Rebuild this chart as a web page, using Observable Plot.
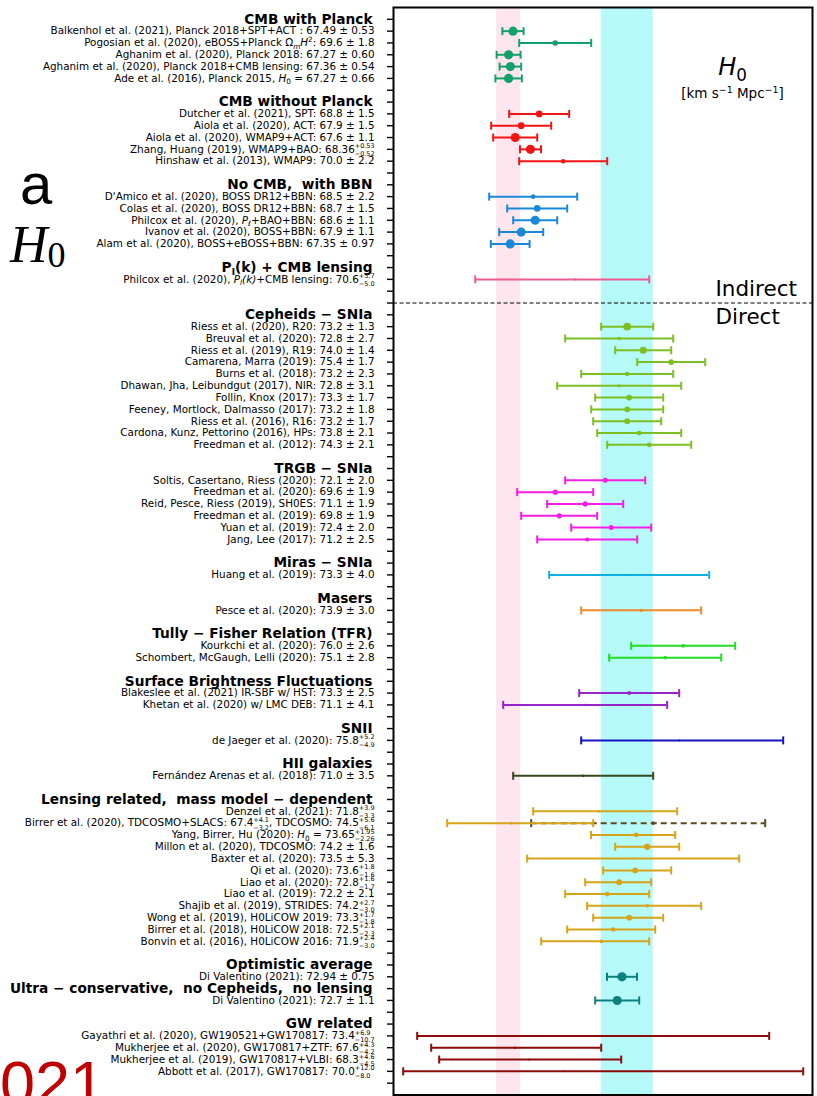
<!DOCTYPE html>
<html>
<head>
<meta charset="utf-8">
<script src="https://cdn.jsdelivr.net/npm/d3@7"></script>
<script src="https://cdn.jsdelivr.net/npm/@observablehq/plot@0.6"></script>
<style>
html, body { margin: 0; padding: 0; background: #fff; }
#wrap { position: relative; width: 817px; height: 1096px; overflow: hidden; }
#slide, #chart { position: absolute; left: 0; top: 0; }
svg text { white-space: pre; }
</style>
</head>
<body>
<div id="wrap">
  <svg id="slide" width="817" height="1096">
    <text x="20" y="204" font-family="Liberation Sans" font-size="58" fill="#000">a</text>
    <text x="10" y="262" font-family="Liberation Serif" font-size="52" font-style="italic" fill="#000">H<tspan font-style="normal" font-size="36" dy="5">0</tspan></text>
    <text x="-35" y="1105" font-family="Liberation Sans" font-size="63" fill="#c00000">2021</text>
  </svg>
  <div id="chart"></div>
</div>
<script>
// ---------- data: [label, H0, minus error, plus error] ----------
const cmbWithPlanck = [
  ["Balkenhol et al. (2021), Planck 2018+SPT+ACT : 67.49 ± 0.53", 67.49, 0.53, 0.53],
  ["Pogosian et al. (2020), eBOSS+Planck Ω$_{m}H$^{2}: 69.6 ± 1.8", 69.6, 1.8, 1.8],
  ["Aghanim et al. (2020), Planck 2018: 67.27 ± 0.60", 67.27, 0.60, 0.60],
  ["Aghanim et al. (2020), Planck 2018+CMB lensing: 67.36 ± 0.54", 67.36, 0.54, 0.54],
  ["Ade et al. (2016), Planck 2015, $H$_{0} = 67.27 ± 0.66", 67.27, 0.66, 0.66]
];
const cmbWithoutPlanck = [
  ["Dutcher et al. (2021), SPT: 68.8 ± 1.5", 68.8, 1.5, 1.5],
  ["Aiola et al. (2020), ACT: 67.9 ± 1.5", 67.9, 1.5, 1.5],
  ["Aiola et al. (2020), WMAP9+ACT: 67.6 ± 1.1", 67.6, 1.1, 1.1],
  ["Zhang, Huang (2019), WMAP9+BAO: 68.36^{+0.53}_{−0.52}", 68.36, 0.52, 0.53],
  ["Hinshaw et al. (2013), WMAP9: 70.0 ± 2.2", 70.0, 2.2, 2.2]
];
const noCmbBbn = [
  ["D'Amico et al. (2020), BOSS DR12+BBN: 68.5 ± 2.2", 68.5, 2.2, 2.2],
  ["Colas et al. (2020), BOSS DR12+BBN: 68.7 ± 1.5", 68.7, 1.5, 1.5],
  ["Philcox et al. (2020), $P_{ℓ}$+BAO+BBN: 68.6 ± 1.1", 68.6, 1.1, 1.1],
  ["Ivanov et al. (2020), BOSS+BBN: 67.9 ± 1.1", 67.9, 1.1, 1.1],
  ["Alam et al. (2020), BOSS+eBOSS+BBN: 67.35 ± 0.97", 67.35, 0.97, 0.97]
];
const plkLensing = [
  ["Philcox et al. (2020), $P_{l}(k)$+CMB lensing: 70.6^{+3.7}_{−5.0}", 70.6, 5.0, 3.7]
];
const cepheids = [
  ["Riess et al. (2020), R20: 73.2 ± 1.3", 73.2, 1.3, 1.3],
  ["Breuval et al. (2020): 72.8 ± 2.7", 72.8, 2.7, 2.7],
  ["Riess et al. (2019), R19: 74.0 ± 1.4", 74.0, 1.4, 1.4],
  ["Camarena, Marra (2019): 75.4 ± 1.7", 75.4, 1.7, 1.7],
  ["Burns et al. (2018): 73.2 ± 2.3", 73.2, 2.3, 2.3],
  ["Dhawan, Jha, Leibundgut (2017), NIR: 72.8 ± 3.1", 72.8, 3.1, 3.1],
  ["Follin, Knox (2017): 73.3 ± 1.7", 73.3, 1.7, 1.7],
  ["Feeney, Mortlock, Dalmasso (2017): 73.2 ± 1.8", 73.2, 1.8, 1.8],
  ["Riess et al. (2016), R16: 73.2 ± 1.7", 73.2, 1.7, 1.7],
  ["Cardona, Kunz, Pettorino (2016), HPs: 73.8 ± 2.1", 73.8, 2.1, 2.1],
  ["Freedman et al. (2012): 74.3 ± 2.1", 74.3, 2.1, 2.1]
];
const trgb = [
  ["Soltis, Casertano, Riess (2020): 72.1 ± 2.0", 72.1, 2.0, 2.0],
  ["Freedman et al. (2020): 69.6 ± 1.9", 69.6, 1.9, 1.9],
  ["Reid, Pesce, Riess (2019), SH0ES: 71.1 ± 1.9", 71.1, 1.9, 1.9],
  ["Freedman et al. (2019): 69.8 ± 1.9", 69.8, 1.9, 1.9],
  ["Yuan et al. (2019): 72.4 ± 2.0", 72.4, 2.0, 2.0],
  ["Jang, Lee (2017): 71.2 ± 2.5", 71.2, 2.5, 2.5]
];
const miras = [["Huang et al. (2019): 73.3 ± 4.0", 73.3, 4.0, 4.0]];
const masers = [["Pesce et al. (2020): 73.9 ± 3.0", 73.9, 3.0, 3.0]];
const tullyFisher = [
  ["Kourkchi et al. (2020): 76.0 ± 2.6", 76.0, 2.6, 2.6],
  ["Schombert, McGaugh, Lelli (2020): 75.1 ± 2.8", 75.1, 2.8, 2.8]
];
const sbf = [
  ["Blakeslee et al. (2021) IR-SBF w/ HST: 73.3 ± 2.5", 73.3, 2.5, 2.5],
  ["Khetan et al. (2020) w/ LMC DEB: 71.1 ± 4.1", 71.1, 4.1, 4.1]
];
const snii = [["de Jaeger et al. (2020): 75.8^{+5.2}_{−4.9}", 75.8, 4.9, 5.2]];
const hii = [["Fernández Arenas et al. (2018): 71.0 ± 3.5", 71.0, 3.5, 3.5]];
const lensing = [
  ["Denzel et al. (2021): 71.8^{+3.9}_{−3.3}", 71.8, 3.3, 3.9],
  ["Birrer et al. (2020), TDCOSMO+SLACS: 67.4^{+4.1}_{−3.2}, TDCOSMO: 74.5^{+5.6}_{−6.1}", 67.4, 3.2, 4.1],
  ["Yang, Birrer, Hu (2020): $H$_{0} = 73.65^{+1.95}_{−2.26}", 73.65, 2.26, 1.95],
  ["Millon et al. (2020), TDCOSMO: 74.2 ± 1.6", 74.2, 1.6, 1.6],
  ["Baxter et al. (2020): 73.5 ± 5.3", 73.5, 5.3, 5.3],
  ["Qi et al. (2020): 73.6^{+1.8}_{−1.6}", 73.6, 1.6, 1.8],
  ["Liao et al. (2020): 72.8^{+1.6}_{−1.7}", 72.8, 1.7, 1.6],
  ["Liao et al. (2019): 72.2 ± 2.1", 72.2, 2.1, 2.1],
  ["Shajib et al. (2019), STRIDES: 74.2^{+2.7}_{−3.0}", 74.2, 3.0, 2.7],
  ["Wong et al. (2019), H0LiCOW 2019: 73.3^{+1.7}_{−1.8}", 73.3, 1.8, 1.7],
  ["Birrer et al. (2018), H0LiCOW 2018: 72.5^{+2.1}_{−2.3}", 72.5, 2.3, 2.1],
  ["Bonvin et al. (2016), H0LiCOW 2016: 71.9^{+2.4}_{−3.0}", 71.9, 3.0, 2.4]
];
// second value in the Birrer et al. (2020) row: [row index in lensing, H0, minus, plus]
const lensingSecond = [[1, 74.5, 6.1, 5.6]];
const optimistic = [["Di Valentino (2021): 72.94 ± 0.75", 72.94, 0.75, 0.75]];
const ultraConservative = [["Di Valentino (2021): 72.7 ± 1.1", 72.7, 1.1, 1.1]];
const gwRelated = [
  ["Gayathri et al. (2020), GW190521+GW170817: 73.4^{+6.9}_{−10.7}", 73.4, 10.7, 6.9],
  ["Mukherjee et al. (2020), GW170817+ZTF: 67.6^{+4.3}_{−4.2}", 67.6, 4.2, 4.3],
  ["Mukherjee et al. (2019), GW170817+VLBI: 68.3^{+4.6}_{−4.5}", 68.3, 4.5, 4.6],
  ["Abbott et al. (2017), GW170817: 70.0^{+12.0}_{−8.0}", 70.0, 8.0, 12.0]
];

const groupTitles = [
  "CMB with Planck", "CMB without Planck", "No CMB,  with BBN", "P_{l}(k) + CMB lensing",
  "Cepheids − SNIa", "TRGB − SNIa", "Miras − SNIa", "Masers", "Tully − Fisher Relation (TFR)",
  "Surface Brightness Fluctuations", "SNII", "HII galaxies", "Lensing related,  mass model − dependent",
  "Optimistic average", "Ultra − conservative,  no Cepheids,  no lensing", "GW related"
];
const groupData = [
  cmbWithPlanck, cmbWithoutPlanck, noCmbBbn, plkLensing, cepheids, trgb, miras, masers,
  tullyFisher, sbf, snii, hii, lensing, optimistic, ultraConservative, gwRelated
];
const unitLabels = ["$H$_{0}", "[km s^{−1} Mpc^{−1}]"];
const regionLabels = ["Indirect", "Direct"];

// ---------- styles ----------
const groupColors = [
  "#14a06a", "#f21414", "#1a88d8", "#ef5a93", "#7cbf22", "#f51ee6", "#10b0e0", "#ee8a2a",
  "#22dd22", "#9525c8", "#1515c0", "#35491c", "#d6a418", "#0d8080", "#0d8080", "#8b0a0a"
];
const secondColor = "#5a4a20";
const bandColors = ["#ffe6ee", "#b6f9f9"];

// ---------- rows ----------
const rows = [], points = [];
groupData.forEach((data, gi) => {
  rows.push({key: "h" + gi, kind: "header", label: groupTitles[gi]});
  data.forEach((d, di) => {
    const key = `e${gi}_${di}`;
    rows.push({key, kind: "entry", label: d[0]});
    points.push({key, v: d[1], lo: d[1] - d[2], hi: d[1] + d[3], err: (d[2] + d[3]) / 2, color: groupColors[gi]});
  });
  if (data !== optimistic) rows.push({key: "b" + gi, kind: "blank"});
  if (data === plkLensing) rows.push({key: "divider", kind: "divider"});
});
const lensingGi = groupData.indexOf(lensing);
const seconds = lensingSecond.map(([i, v, m, p]) => ({key: `e${lensingGi}_${i}`, v, lo: v - m, hi: v + p}));
const planckRef = cmbWithPlanck[2], riessRef = cepheids[0];
const bands = [
  {x1: planckRef[1] - planckRef[2], x2: planckRef[1] + planckRef[3], fill: bandColors[0]},
  {x1: riessRef[1] - riessRef[2], x2: riessRef[1] + riessRef[3], fill: bandColors[1]}
];
const radius = d => Math.max(1, Math.min(4.6, 5 / d.err));
// vertical cap symbol for error bars
const capSymbol = {draw(ctx) { ctx.moveTo(0, -4); ctx.lineTo(0, 4); }};

const plot = Plot.plot({
  width: 817, height: 1096,
  marginLeft: 393, marginRight: 5, marginTop: 7, marginBottom: 1.5,
  style: {fontFamily: "DejaVu Sans", background: "transparent", overflow: "visible"},
  x: {domain: [61.515, 82.465], axis: null},
  y: {type: "point", domain: rows.map(r => r.key), padding: 1, axis: null},
  r: {type: "identity"},
  color: {type: "identity"},
  marks: [
    Plot.rect(bands, {x1: "x1", x2: "x2", fill: "fill"}),
    Plot.ruleY(["divider"], {y: d => d, stroke: "black", strokeWidth: 1, strokeDasharray: "4,2.5"}),
    // dashed second measurement
    Plot.ruleY(seconds, {y: "key", x1: "lo", x2: "hi", stroke: secondColor, strokeWidth: 2, strokeDasharray: "6,4"}),
    Plot.dot(seconds, {y: "key", x: "lo", symbol: capSymbol, r: 4, fill: "none", stroke: secondColor, strokeWidth: 2}),
    Plot.dot(seconds, {y: "key", x: "hi", symbol: capSymbol, r: 4, fill: "none", stroke: secondColor, strokeWidth: 2}),
    Plot.dot(seconds, {y: "key", x: "v", r: 1.8, fill: secondColor}),
    // main error bars
    Plot.ruleY(points, {y: "key", x1: "lo", x2: "hi", stroke: "color", strokeWidth: 2}),
    Plot.dot(points, {y: "key", x: "lo", symbol: capSymbol, r: 4, fill: "none", stroke: "color", strokeWidth: 2}),
    Plot.dot(points, {y: "key", x: "hi", symbol: capSymbol, r: 4, fill: "none", stroke: "color", strokeWidth: 2}),
    Plot.dot(points, {y: "key", x: "v", r: radius, fill: "color"}),
    Plot.frame({stroke: "black", strokeWidth: 2}),
    Plot.axisY({tickSize: 6, tickFormat: () => "", label: null, stroke: "black", strokeWidth: 1.4}),
    // labels
    Plot.text(rows.filter(r => r.kind === "entry"), {y: "key", text: "label", frameAnchor: "left", textAnchor: "end", dx: -19, fontSize: 10.4, fill: "black"}),
    Plot.text(rows.filter(r => r.kind === "header"), {y: "key", text: "label", frameAnchor: "left", textAnchor: "end", dx: -21, fontSize: 13.7, fontWeight: "bold", fill: "black"}),
    // annotations
    Plot.text([unitLabels[0]], {frameAnchor: "top-right", dx: -80, dy: 50, textAnchor: "middle", fontSize: 24, fill: "black"}),
    Plot.text([unitLabels[1]], {frameAnchor: "top-right", dx: -80, dy: 81, textAnchor: "middle", fontSize: 13.5, fill: "black"}),
    Plot.text([regionLabels[0]], {y: () => "divider", frameAnchor: "right", dx: -97, dy: -14, textAnchor: "start", fontSize: 21.5, fill: "black"}),
    Plot.text([regionLabels[1]], {y: () => "divider", frameAnchor: "right", dx: -97, dy: 14, textAnchor: "start", fontSize: 21.5, fill: "black"})
  ]
});
document.getElementById("chart").appendChild(plot);

// ---------- rich text (sub/superscripts, italics) ----------
function parseMarkup(s) {
  const toks = []; let buf = "", it = false, i = 0;
  const flush = () => { if (buf) toks.push({t: buf, kind: "n", it}); buf = ""; };
  while (i < s.length) {
    const c = s[i];
    if (c === "$") { flush(); it = !it; i++; continue; }
    if ((c === "^" || c === "_") && s[i + 1] === "{") {
      flush();
      const j = s.indexOf("}", i + 2);
      toks.push({t: s.slice(i + 2, j), kind: c === "^" ? "sup" : "sub", it});
      i = j + 1; continue;
    }
    buf += c; i++;
  }
  flush();
  return toks;
}
function renderRich(el) {
  const s = el.textContent;
  if (!/[\^_$]/.test(s)) return;
  const fs = parseFloat(getComputedStyle(el).fontSize) || 10;
  const toks = parseMarkup(s);
  while (el.firstChild) el.removeChild(el.firstChild);
  const ns = "http://www.w3.org/2000/svg";
  let shift = 0, pend = 0;
  const add = (tok, size, target, dx) => {
    const ts = document.createElementNS(ns, "tspan");
    ts.textContent = tok.t;
    if (tok.it) ts.setAttribute("font-style", "italic");
    ts.setAttribute("font-size", size);
    const dy = target - shift;
    if (dy) ts.setAttribute("dy", dy);
    shift = target;
    if (dx) ts.setAttribute("dx", dx);
    el.appendChild(ts);
    return ts;
  };
  for (let k = 0; k < toks.length; k++) {
    const tk = toks[k];
    if (tk.kind === "n") { add(tk, fs, 0, pend); pend = 0; }
    else if (tk.kind === "sup" && toks[k + 1] && toks[k + 1].kind === "sub") {
      const a = add(tk, fs * 0.62, -0.42 * fs, pend);
      const w1 = a.getComputedTextLength();
      const b = add(toks[k + 1], fs * 0.62, 0.3 * fs, -w1);
      const w2 = b.getComputedTextLength();
      pend = Math.max(0, w1 - w2); k++;
    } else {
      add(tk, fs * 0.7, tk.kind === "sup" ? -0.4 * fs : 0.25 * fs, pend); pend = 0;
    }
  }
  if (pend) add({t: "\u200b"}, fs, shift, pend);
}
plot.querySelectorAll("text").forEach(renderRich);
</script>
</body>
</html>
